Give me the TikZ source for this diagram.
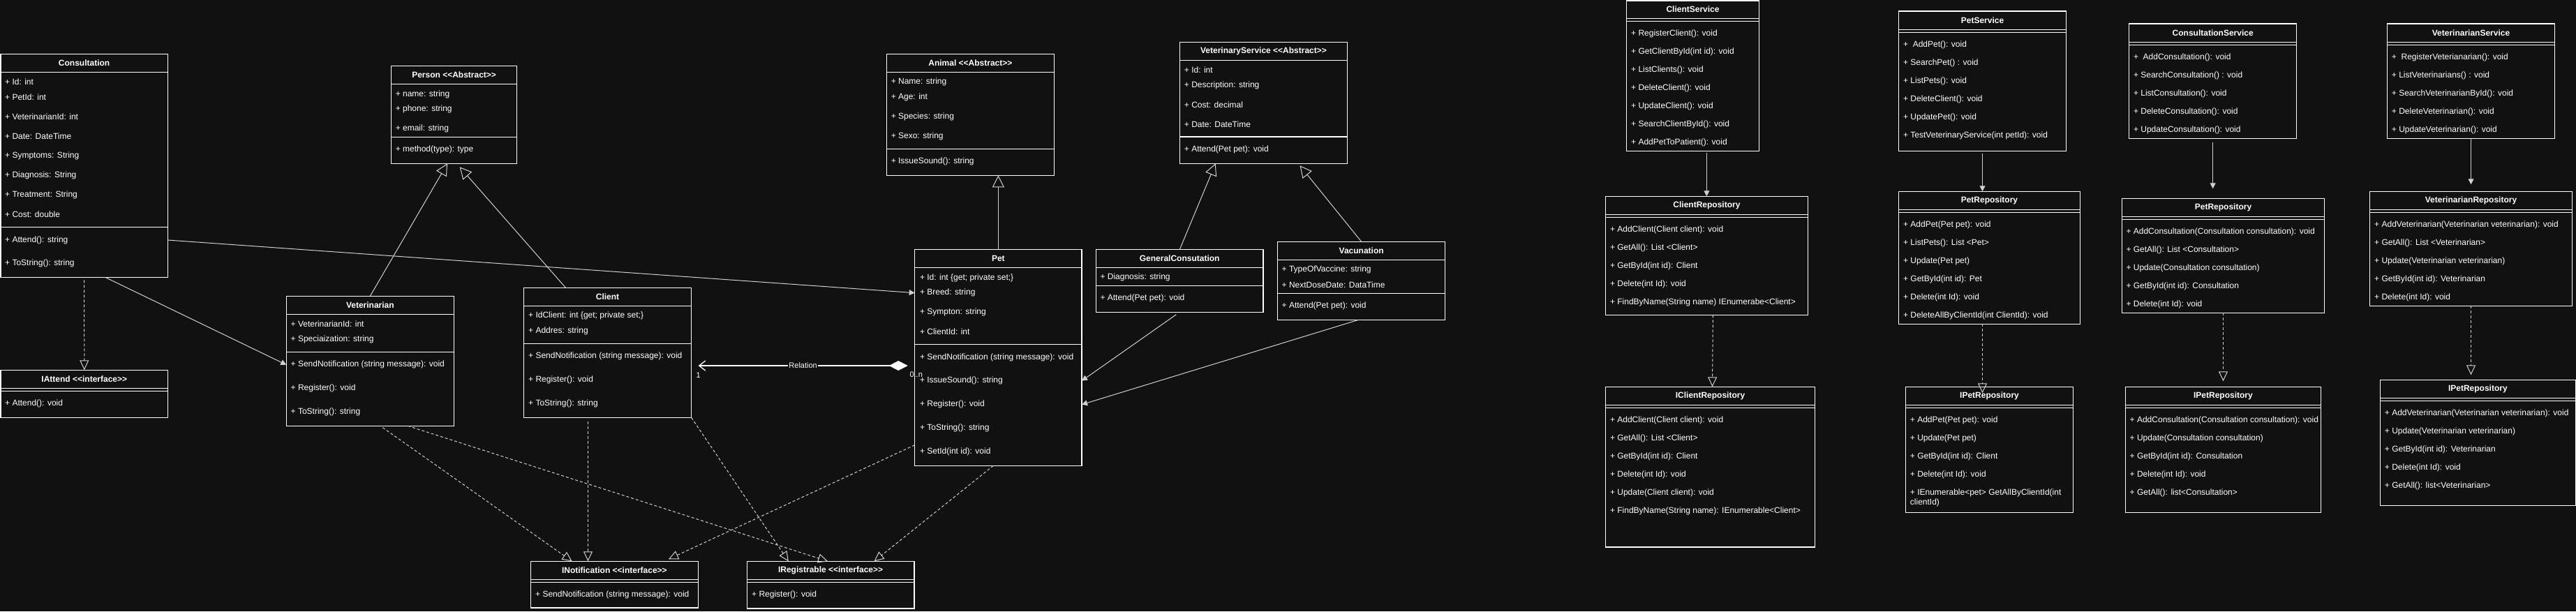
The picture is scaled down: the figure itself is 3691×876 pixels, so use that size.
\documentclass[tikz,border=0pt]{standalone}
\usepackage{fontspec}
\setmainfont{Liberation Sans}[Ligatures=TeXOff]
\usetikzlibrary{arrows.meta,fit,calc}

\definecolor{canvas}{HTML}{111111}
\definecolor{umlline}{HTML}{FFFFFF}
\definecolor{connline}{HTML}{D0D0D0}

\tikzset{
  classbox/.style={draw=umlline, line width=1.2pt, fill=canvas, inner sep=0pt, outer sep=0pt},
  classtitle/.style={text=white, font=\fontsize{12}{14}\selectfont\bfseries, inner sep=0pt},
  member/.style={text=white, font=\fontsize{12}{14}\selectfont, anchor=west, inner sep=0pt, align=left},
  boxline/.style={draw=umlline, line width=1.2pt},
  inherit/.style={draw=connline, line width=1pt, -{Triangle[open, length=17pt, width=17pt]}},
  realize/.style={draw=connline, line width=1pt, dash pattern=on 4pt off 3pt, -{Triangle[open, length=14pt, width=13pt]}},
  assoc/.style={draw=connline, line width=1pt, -{Triangle[length=8pt, width=8pt]}},
  relation/.style={draw=white, line width=1.3pt, {Diamond[length=27pt, width=14pt]}-{Straight Barb[length=9pt, width=14pt]}},
  rellabel/.style={text=white, font=\fontsize{11}{13}\selectfont, inner sep=1pt},
}

% box with title compartment: name, left, top, right, bottom, header line, title
\newcommand{\umlclass}[7]{%
  \node[classbox, fit={(#2,#3) (#4,#5)}] (#1) {};
  \node[classtitle] (#1-title) at ({(#2+#4)/2},{(#3+#6)/2}) {#7};
  \draw[boxline] (#2,#6) -- (#4,#6);
}

\begin{document}
\begin{tikzpicture}[x=1pt, y=-1pt]
    \useasboundingbox (0,0) rectangle (3691,876);
    \fill[canvas] (0,0) rectangle (3691,876);

    % Domain classes %
    \umlclass{consultation}{1}{77.3}{240.3}{397.3}{103.3}{Consultation}
    \draw[boxline] (1,325.3) -- (240.3,325.3);
    \foreach \yy/\txt [count=\i] in {117.7/+ Id: int, 139.7/+ PetId: int, 167.7/+ VeterinarianId: int, 195.7/+ Date: DateTime, 223.7/+ Symptoms: String, 251.7/+ Diagnosis: String, 279.7/+ Treatment: String, 307.7/+ Cost: double}
        \node[member] (cons-a\i) at (7,\yy) {\txt};
    \foreach \yy/\txt [count=\i] in {344/+ Attend(): string, 377.7/+ ToString(): string}
        \node[member] (cons-m\i) at (7,\yy) {\txt};

    \umlclass{person}{560.7}{94.3}{740.6}{234.3}{120.3}{Person <<Abstract>>}
    \draw[boxline] (560.7,196.3) -- (740.6,196.3);
    \foreach \yy/\txt [count=\i] in {135/+ name: string, 156.7/+ phone: string, 184.7/+ email: string}
        \node[member] (person-a\i) at (566.6,\yy) {\txt};
    \node[member] (person-m1) at (566.6,214.7) {+ method(type): type};

    \umlclass{veterinarian}{410.3}{424.3}{650.4}{610.3}{450.3}{Veterinarian}
    \draw[boxline] (410.3,504.3) -- (650.4,504.3);
    \foreach \yy/\txt [count=\i] in {464.3/+ VeterinarianId: int, 486.7/+ Speciaization: string}
        \node[member] (vet-a\i) at (416.5,\yy) {\txt};
    \foreach \yy/\txt [count=\i] in {522.7/+ SendNotification (string message): void, 556.7/+ Register(): void, 590.7/+ ToString(): string}
        \node[member] (vet-m\i) at (416.5,\yy) {\txt};

    \umlclass{client}{750.4}{412.3}{990.6}{598.3}{438.3}{Client}
    \draw[boxline] (750.4,492.7) -- (990.6,492.7);
    \foreach \yy/\txt [count=\i] in {452.7/+ IdClient: int \{get; private set;\}, 474.7/+ Addres: string}
        \node[member] (client-a\i) at (757,\yy) {\txt};
    \foreach \yy/\txt [count=\i] in {510.7/+ SendNotification (string message): void, 544.7/+ Register(): void, 578.7/+ ToString(): string}
        \node[member] (client-m\i) at (757,\yy) {\txt};

    \umlclass{pet}{1310.7}{357.3}{1550}{667.3}{383.3}{Pet}
    \draw[boxline] (1310.7,493.3) -- (1550,493.3);
    \foreach \yy/\txt [count=\i] in {398/+ Id: int \{get; private set;\}, 419.7/+ Breed: string, 447.7/+ Sympton: string, 475.7/+ ClientId: int}
        \node[member] (pet-a\i) at (1317.8,\yy) {\txt};
    \foreach \yy/\txt [count=\i] in {512/+ SendNotification (string message): void, 545.7/+ IssueSound(): string, 579.7/+ Register(): void, 613.7/+ ToString(): string, 647.7/+ SetId(int id): void}
        \node[member] (pet-m\i) at (1317.8,\yy) {\txt};

    \umlclass{animal}{1270.6}{77.3}{1510.2}{251.3}{103.3}{Animal <<Abstract>>}
    \draw[boxline] (1270.6,213.3) -- (1510.2,213.3);
    \foreach \yy/\txt [count=\i] in {117.7/+ Name: string, 139.7/+ Age: int, 167.7/+ Species: string, 195.7/+ Sexo: string}
        \node[member] (animal-a\i) at (1276.6,\yy) {\txt};
    \node[member] (animal-m1) at (1276.6,231.7) {+ IssueSound(): string};

    \umlclass{service}{1690.7}{60.3}{1930.3}{234.3}{86.3}{VeterinaryService <<Abstract>>}
    \draw[boxline] (1690.7,196) -- (1930.3,196);
    \foreach \yy/\txt [count=\i] in {100.7/+ Id: int, 122.7/+ Description: string, 150.7/+ Cost: decimal, 178.7/+ Date: DateTime}
        \node[member] (service-a\i) at (1696.7,\yy) {\txt};
    \node[member] (service-m1) at (1696.7,214.7) {+ Attend(Pet pet): void};

    \umlclass{general}{1570.4}{357.7}{1810}{447.3}{383.3}{GeneralConsutation}
    \draw[boxline] (1570.4,409.3) -- (1810,409.3);
    \node[member] (general-a1) at (1576.3,397.7) {+ Diagnosis: string};
    \node[member] (general-m1) at (1576.3,427.7) {+ Attend(Pet pet): void};

    \umlclass{vacunation}{1830.6}{346.3}{2070.7}{458.3}{372.3}{Vacunation}
    \draw[boxline] (1830.6,420.3) -- (2070.7,420.3);
    \node[member] (vacunation-a1) at (1836.5,386.7) {+ TypeOfVaccine: string};
    \node[member] (vacunation-a2) at (1836.5,408.7) {+ NextDoseDate: DataTime};
    \node[member] (vacunation-m1) at (1836.5,438.7) {+ Attend(Pet pet): void};

    % Interfaces %
    \umlclass{iattend}{1}{530.3}{240.6}{598.3}{556.3}{IAttend <<interface>>}
    \draw[boxline] (1,560.3) -- (240.6,560.3);
    \node[member] (iattend-m1) at (7,578.7) {+ Attend(): void};

    \umlclass{inotification}{760.3}{804.3}{1000.4}{871}{830.3}{INotification <<interface>>}
    \draw[boxline] (760.3,834.3) -- (1000.4,834.3);
    \node[member] (inotification-m1) at (767,852.7) {+ SendNotification (string message): void};

    \umlclass{iregistrable}{1070.2}{804.3}{1310}{872}{830.3}{IRegistrable <<interface>>}
    \draw[boxline] (1070.2,834.3) -- (1310,834.3);
    \node[member] (iregistrable-m1) at (1077,852.7) {+ Register(): void};

    % Domain relations %
    \draw[realize, shorten <=4pt] (consultation.south) -- (iattend.north);
    \draw[assoc] ([xshift=30pt]consultation.south) -- (veterinarian.west |- vet-m1);
    \draw[assoc] (consultation.east |- cons-m1) -- (pet.west |- pet-a2);
    \draw[inherit] (veterinarian.north) -- ([xshift=-9.6pt]person.south);
    \draw[inherit] ([xshift=-60pt]client.north) -- ([xshift=8pt,yshift=-5pt]person.south);
    \draw[inherit] (pet.north) -- (pet.north |- animal.south);
    \draw[inherit] (general.north) -- ([xshift=-68.8pt]service.south);
    \draw[inherit] (vacunation.north) -- ([xshift=52pt,yshift=-3pt]service.south);
    \draw[assoc, shorten <=6pt] (general.south) -- (pet.east |- pet-m2);
    \draw[assoc] ([xshift=-4pt]vacunation.south) -- (pet.east |- pet-m3);

    \coordinate (rel-pet) at ([xshift=-10pt,yshift=-11.7pt]pet.west);
    \coordinate (rel-client) at ($(client.east |- rel-pet)+(10,0)$);
    \draw[relation] (rel-pet) -- (rel-client)
        node[rellabel, midway, fill=canvas] (relation-label) {Relation}
        node[rellabel, at start, xshift=12pt, yshift=-13pt] (relation-many) {0..n}
        node[rellabel, at end, yshift=-14pt] (relation-one) {1};

    \draw[realize, shorten <=4pt] ([xshift=14.6pt]veterinarian.south) -- ([xshift=-60.7pt]inotification.north);
    \draw[realize, shorten <=6pt] ([xshift=-28pt]client.south) -- ([xshift=-28pt]client.south |- inotification.north);
    \draw[realize] ([yshift=29.6pt]pet.south west) -- ([xshift=-42.4pt,yshift=3pt]inotification.north east);
    \draw[realize] ([xshift=54pt]veterinarian.south) -- ([xshift=-4pt]iregistrable.north);
    \draw[realize] (client.south east) -- ([xshift=-60.3pt]iregistrable.north);
    \draw[realize] ([xshift=-7pt]pet.south) -- ([xshift=-57.5pt]iregistrable.north east);

    % Services and repositories %
    \umlclass{clientservice}{2330.4}{1}{2520.6}{216.3}{26.3}{ClientService}
    \draw[boxline] (2330.4,30.3) -- (2520.6,30.3);
    \foreach \txt [count=\i] in {{+ RegisterClient(): void}, {+ GetClientById(int id): void}, {+ ListClients(): void}, {+ DeleteClient(): void}, {+ UpdateClient(): void}, {+ SearchClientById(): void}, {+ AddPetToPatient(): void}}
        \node[member] (clientservice-\i) at (2337,{48.7+26*(\i-1)}) {\txt};

    \umlclass{clientrepo}{2300.5}{281.3}{2590.3}{451.3}{307.3}{ClientRepository}
    \draw[boxline] (2300.5,311.3) -- (2590.3,311.3);
    \foreach \txt [count=\i] in {{+ AddClient(Client client): void}, {+ GetAll(): List <Client>}, {+ GetById(int id): Client}, {+ Delete(int Id): void}, {+ FindByName(String name) IEnumerabe<Client>}}
        \node[member] (clientrepo-\i) at (2306.8,{329.7+26*(\i-1)}) {\txt};

    \umlclass{iclientrepo}{2300.5}{554.3}{2600.5}{784}{580.3}{IClientRepository}
    \draw[boxline] (2300.5,584.3) -- (2600.5,584.3);
    \foreach \txt [count=\i] in {{+ AddClient(Client client): void}, {+ GetAll(): List <Client>}, {+ GetById(int id): Client}, {+ Delete(int Id): void}, {+ Update(Client client): void}, {+ FindByName(String name): IEnumerable<Client>}}
        \node[member] (iclientrepo-\i) at (2306.8,{602.7+26*(\i-1)}) {\txt};

    \umlclass{petservice}{2720.6}{16}{2960.4}{216.3}{42.3}{PetService}
    \draw[boxline] (2720.6,46.3) -- (2960.4,46.3);
    \foreach \txt [count=\i] in {{+~ AddPet(): void}, {+ SearchPet() : void}, {+ ListPets(): void}, {+ DeleteClient(): void}, {+ UpdatePet(): void}, {+ TestVeterinaryService(int petId): void}}
        \node[member] (petservice-\i) at (2726.9,{64.7+26*(\i-1)}) {\txt};

    \umlclass{petrepo}{2720.6}{274.3}{2980.3}{464.3}{300.3}{PetRepository}
    \draw[boxline] (2720.6,304.3) -- (2980.3,304.3);
    \foreach \txt [count=\i] in {{+ AddPet(Pet pet): void}, {+ ListPets(): List <Pet>}, {+ Update(Pet pet)}, {+ GetById(int id): Pet}, {+ Delete(int Id): void}, {+ DeleteAllByClientId(int ClientId): void}}
        \node[member] (petrepo-\i) at (2726.9,{322.7+26*(\i-1)}) {\txt};

    \umlclass{ipetrepo}{2730.4}{554.3}{2970.6}{734.3}{580.3}{IPetRepository}
    \draw[boxline] (2730.4,584.3) -- (2970.6,584.3);
    \foreach \txt [count=\i] in {{+ AddPet(Pet pet): void}, {+ Update(Pet pet)}, {+ GetById(int id): Client}, {+ Delete(int Id): void}}
        \node[member] (ipetrepo-\i) at (2736.7,{602.7+26*(\i-1)}) {\txt};
    \node[member] (ipetrepo-5) at (2736.7,713.7) {+ IEnumerable<pet> GetAllByClientId(int\\clientId)};

    \umlclass{consultservice}{3050.6}{34}{3290.7}{198.7}{60.3}{ConsultationService}
    \draw[boxline] (3050.6,64.3) -- (3290.7,64.3);
    \foreach \txt [count=\i] in {{+~ AddConsultation(): void}, {+ SearchConsultation() : void}, {+ ListConsultation(): void}, {+ DeleteConsultation(): void}, {+ UpdateConsultation(): void}}
        \node[member] (consultservice-\i) at (3056.8,{82.7+26*(\i-1)}) {\txt};

    \umlclass{consultrepo}{3040.6}{284.3}{3330.4}{448.3}{310.3}{PetRepository}
    \draw[boxline] (3040.6,314.3) -- (3330.4,314.3);
    \foreach \txt [count=\i] in {{+ AddConsultation(Consultation consultation): void}, {+ GetAll(): List <Consultation>}, {+ Update(Consultation consultation)}, {+ GetById(int id): Consultation}, {+ Delete(int Id): void}}
        \node[member] (consultrepo-\i) at (3046.3,{332.7+26*(\i-1)}) {\txt};

    \umlclass{iconsultrepo}{3045.3}{554.3}{3325.5}{734.3}{580.3}{IPetRepository}
    \draw[boxline] (3045.3,584.3) -- (3325.5,584.3);
    \foreach \txt [count=\i] in {{+ AddConsultation(Consultation consultation): void}, {+ Update(Consultation consultation)}, {+ GetById(int id): Consultation}, {+ Delete(int Id): void}, {+ GetAll(): list<Consultation>}}
        \node[member] (iconsultrepo-\i) at (3051.5,{602.7+26*(\i-1)}) {\txt};

    \umlclass{vetservice}{3420.3}{34}{3660.7}{198.7}{60.3}{VeterinarianService}
    \draw[boxline] (3420.3,64.3) -- (3660.7,64.3);
    \foreach \txt [count=\i] in {{+~ RegisterVeterianarian(): void}, {+ ListVeterinarians() : void}, {+ SearchVeterinarianById(): void}, {+ DeleteVeterinarian(): void}, {+ UpdateVeterinarian(): void}}
        \node[member] (vetservice-\i) at (3426.7,{82.7+26*(\i-1)}) {\txt};

    \umlclass{vetrepo}{3395.3}{274.3}{3685.7}{438.3}{300.3}{VeterinarianRepository}
    \draw[boxline] (3395.3,304.3) -- (3685.7,304.3);
    \foreach \txt [count=\i] in {{+ AddVeterinarian(Veterinarian veterinarian): void}, {+ GetAll(): List <Veterinarian>}, {+ Update(Veterinarian veterinarian)}, {+ GetById(int id): Veterinarian}, {+ Delete(int Id): void}}
        \node[member] (vetrepo-\i) at (3402,{322.7+26*(\i-1)}) {\txt};

    \umlclass{ivetrepo}{3410.3}{544.3}{3690.3}{724.3}{570.3}{IPetRepository}
    \draw[boxline] (3410.3,574.3) -- (3690.3,574.3);
    \foreach \txt [count=\i] in {{+ AddVeterinarian(Veterinarian veterinarian): void}, {+ Update(Veterinarian veterinarian)}, {+ GetById(int id): Veterinarian}, {+ Delete(int Id): void}, {+ GetAll(): list<Veterinarian>}}
        \node[member] (ivetrepo-\i) at (3416.7,{592.7+26*(\i-1)}) {\txt};

    % Layer links %
    \draw[assoc, shorten <=3pt] (clientrepo.north |- clientservice.south) -- (clientrepo.north);
    \draw[realize] ([xshift=9pt]clientrepo.south) -- ([xshift=3pt]iclientrepo.north);
    \draw[assoc, shorten <=4pt] (petservice.south) -- (petservice.south |- petrepo.north);
    \draw[realize] (petservice.south |- petrepo.south) -- ([yshift=-9pt]petservice.south |- ipetrepo.north);
    \draw[assoc, shorten <=5pt, shorten >=14pt] (consultservice.south) -- (consultservice.south |- consultrepo.north);
    \draw[realize, shorten >=8pt] (consultrepo.south) -- (consultrepo.south |- iconsultrepo.north);
    \draw[assoc, shorten >=10pt] (vetservice.south) -- (vetservice.south |- vetrepo.north);
    \draw[realize, shorten >=7pt] (vetrepo.south) -- (vetrepo.south |- ivetrepo.north);
\end{tikzpicture}
\end{document}
